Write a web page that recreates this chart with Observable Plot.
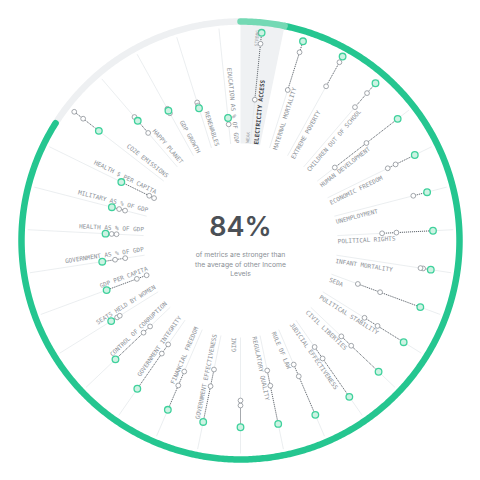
<!DOCTYPE html>
<html><head><meta charset="utf-8">
<script src="https://cdn.jsdelivr.net/npm/d3@7"></script>
<script src="https://cdn.jsdelivr.net/npm/@observablehq/plot@0.6"></script>
<style>body{margin:0;background:#fff}#chart{width:480px;height:480px}</style>
</head><body><div id="chart"></div>
<script>
// ---- data ----
const metrics = ["Electricity Access","Maternal Mortality","Extreme Poverty","Children Out of School","Human Development","Economic Freedom","Unemployment","Political Rights","Infant Mortality","SEDA","Political Stability","Civil Liberties","Judicial Effectiveness","Rule of Law","Regulatory Quality","Gini","Government Effectiveness","Financial Freedom","Government Integrity","Control of Corruption","Seats Held by Women","GDP per Capita","Government as % of GDP","Health as % of GDP","Military as % of GDP","Health $ per Capita","CO2E Emissions","Happy Planet","GDP Growth","Renewables","Education as % of GDP"];
const selectedLevel = [95.0,95.0,96.3,93.8,87.0,83.3,82.2,82.2,82.0,81.4,81.8,80.4,80.4,79.8,77.8,77.4,76.2,75.4,72.5,66.0,49.9,42.2,39.9,36.1,34.3,34.2,71.3,54.2,46.8,38.9,26.5];
const otherLevelA = [86.2,85.8,91.1,83.4,55.4,66.2,70.8,52.9,75.8,47.1,57.2,50.2,43.0,46.2,46.6,60.0,47.0,54.2,38.2,35.0,44.3,16.4,29.5,31.2,28.3,9.3,87.2,58.2,48.5,43.7,27.4];
const otherLevelB = [41.2,54.2,69.1,68.6,23.4,59.2,81.8,41.4,73.7,28.1,44.9,39.3,31.8,36.0,34.2,56.0,33.4,42.1,29.3,27.8,41.8,8.1,21.3,27.3,23.4,5.0,96.2,41.4,44.4,41.2,21.4];
const strongerShare = 0.84;
const highlighted = "Electricity Access";
const headline = "of metrics are stronger than\nthe average of other Income\nLevels";

// ---- geometry helpers ----
const angle = d3.scaleBand(metrics, [0, 360]);
const step = angle.bandwidth();
const theta = m => angle(m) + step / 2;
const radius = d3.scaleLinear([0, 100], [90, 215]);
const deg = Math.PI / 180;
const px = (t, r, d = 0) => r * Math.sin(t * deg) + d * Math.cos(t * deg);
const py = (t, r, d = 0) => r * Math.cos(t * deg) - d * Math.sin(t * deg);

const rows = metrics.map((m, i) => ({metric: m, t: theta(m), sel: selectedLevel[i], a: otherLevelA[i], b: otherLevelB[i]}));
const grayPts = rows.flatMap(d => [{t: d.t, v: d.a}, {t: d.t, v: d.b}]);
const greenPts = rows.map(d => ({t: d.t, v: d.sel}));

const arc = (t0, t1, r) => d3.range(t0, t1, 0.5).concat([t1]).map(t => ({t, r}));
const RING = 219, AX0 = 97, AX1 = 213;
const hl = theta(highlighted) - step / 2;
const strongEnd = strongerShare * 360;
const wedge = arc(hl, hl + step, 217).concat(arc(hl, hl + step, AX0).reverse());

const xy = {x: d => px(d.t, d.r), y: d => py(d.t, d.r)};
const mono = "DejaVu Sans Mono";
const labelOff = 6;
const rightRows = rows.filter(d => d.t < 180 && d.metric !== highlighted);
const leftRows = rows.filter(d => d.t >= 180 && d.metric !== highlighted);
const hlRow = rows.filter(d => d.metric === highlighted);

const chart = Plot.plot({
  width: 480, height: 480, margin: 0,
  x: {domain: [-240, 240], axis: null},
  y: {domain: [-240, 240], axis: null},
  style: {background: "#fff"},
  marks: [
    Plot.line(wedge, {...xy, fill: "#eff1f3", stroke: null}),
    Plot.link(rows, {x1: d => px(d.t, AX0), y1: d => py(d.t, AX0), x2: d => px(d.t, AX1), y2: d => py(d.t, AX1), stroke: "#e3e6e9", strokeWidth: 0.7}),
    Plot.line(arc(strongEnd, 360, RING), {...xy, stroke: "#eef0f2", strokeWidth: 6.5}),
    Plot.line(arc(hl + step, strongEnd, RING), {...xy, stroke: "#25c690", strokeWidth: 6.5}),
    Plot.line(arc(hl, hl + step, RING), {...xy, stroke: "#74d9b4", strokeWidth: 6.5}),
    Plot.link(rows, {
      x1: d => px(d.t, radius(Math.min(d.sel, d.a, d.b))), y1: d => py(d.t, radius(Math.min(d.sel, d.a, d.b))),
      x2: d => px(d.t, radius(Math.max(d.sel, d.a, d.b))), y2: d => py(d.t, radius(Math.max(d.sel, d.a, d.b))),
      stroke: "#50555b", strokeWidth: 0.9, strokeDasharray: "1,1"
    }),
    Plot.dot(grayPts, {x: d => px(d.t, radius(d.v)), y: d => py(d.t, radius(d.v)), r: 2.4, fill: "#fff", stroke: "#8d9298", strokeWidth: 0.8}),
    Plot.dot(greenPts, {x: d => px(d.t, radius(d.v)), y: d => py(d.t, radius(d.v)), r: 3.3, fill: "#cdf3e3", stroke: "#3fd19c", strokeWidth: 1.3}),
    Plot.text(rightRows, {x: d => px(d.t, AX0, labelOff), y: d => py(d.t, AX0, labelOff), text: d => d.metric.toUpperCase(), rotate: d => d.t - 90, textAnchor: "start", fontSize: 6, fontFamily: mono, fill: "#8c9197"}),
    Plot.text(leftRows, {x: d => px(d.t, AX0, labelOff), y: d => py(d.t, AX0, labelOff), text: d => d.metric.toUpperCase(), rotate: d => d.t - 270, textAnchor: "end", fontSize: 6, fontFamily: mono, fill: "#8c9197"}),
    Plot.text(hlRow, {x: d => px(d.t, AX0, labelOff), y: d => py(d.t, AX0, labelOff), text: d => d.metric.toUpperCase(), rotate: d => d.t - 90, textAnchor: "start", fontSize: 6, fontFamily: mono, fontWeight: "bold", fill: "#3d4248"}),
    Plot.text(hlRow, {x: d => px(d.t, AX0 + 1, -3), y: d => py(d.t, AX0 + 1, -3), text: () => "WEAK", rotate: d => d.t - 90, textAnchor: "start", fontSize: 4.5, fontFamily: mono, fill: "#9a9fa5"}),
    Plot.text(hlRow, {x: d => px(d.t, 211, -4), y: d => py(d.t, 211, -4), text: () => "STRONG", rotate: d => d.t - 90, textAnchor: "end", fontSize: 4.5, fontFamily: mono, fill: "#9a9fa5"}),
    Plot.text([`${Math.round(strongerShare * 100)}%`], {frameAnchor: "middle", dy: -13, fontSize: 27, fontWeight: 600, fontFamily: "Inter", fill: "#4b5056"}),
    Plot.text([headline], {frameAnchor: "middle", dy: 23, fontSize: 6.8, lineHeight: 1.4, fontFamily: "Inter", fill: "#8b9096"})
  ]
});
document.getElementById("chart").appendChild(chart);
</script>
</body></html>
